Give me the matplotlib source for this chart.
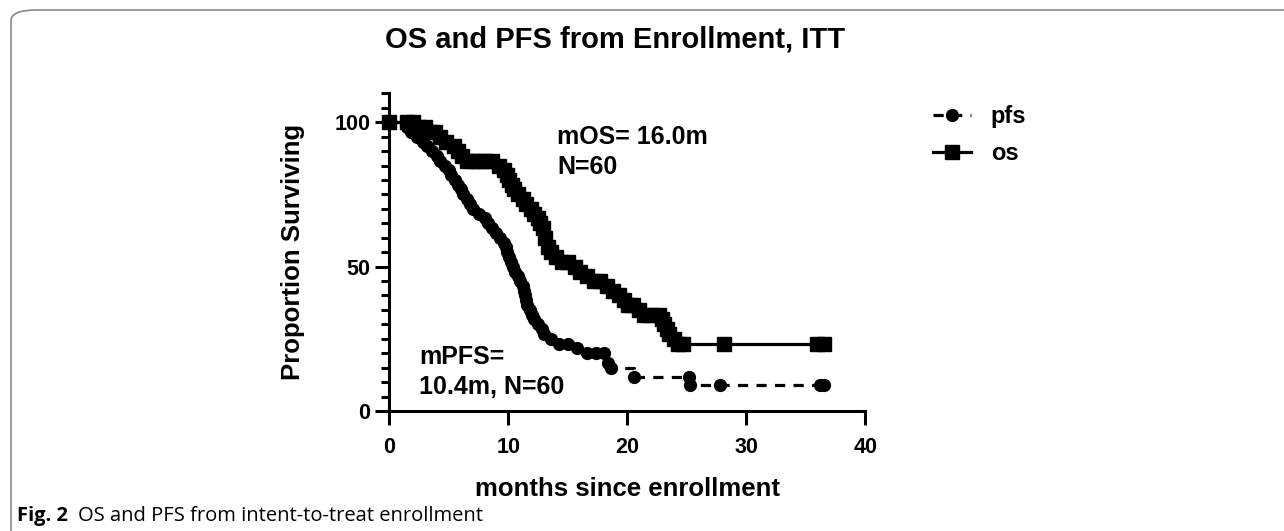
import matplotlib
matplotlib.use("Agg")
import matplotlib.pyplot as plt
from matplotlib.patches import FancyBboxPatch
from matplotlib.ticker import MultipleLocator

# ---- data ----
pfs_time = [0, 1.5, 1.8, 2.3, 2.8, 3.2, 3.6, 4.0, 4.3, 4.7, 5.0, 5.2, 5.5, 5.8, 6.0, 6.2,
            6.5, 6.8, 7.0, 7.5, 8.0, 8.3, 8.6, 9.0, 9.3, 9.6, 9.8, 9.9, 10.1, 10.2, 10.4,
            10.6, 10.8, 11.0, 11.2, 11.3, 11.4, 11.5, 11.6, 11.8, 12.0, 12.2, 12.5, 12.8,
            13.0, 13.6, 14.3, 15.0, 15.8, 16.6, 17.4, 18.0, 18.4, 18.6, 20.6, 25.2, 25.3,
            27.8, 36.2, 36.5]
pfs_surv = [100, 98.3, 96.7, 95.0, 93.3, 91.7, 90.0, 88.3, 86.7, 85.0, 83.3, 81.7, 80.0,
            78.3, 76.7, 75.0, 73.3, 71.7, 70.0, 68.3, 66.7, 65.0, 63.3, 61.7, 60.0, 58.3,
            56.7, 55.0, 53.3, 51.7, 50.0, 48.3, 46.7, 45.0, 43.3, 41.7, 40.0, 38.3, 36.7,
            35.0, 33.3, 31.7, 30.0, 28.3, 26.7, 25.0, 23.3, 23.3, 21.7, 20.0, 20.0, 20.0,
            16.7, 14.8, 11.9, 11.9, 9.0, 9.0, 9.0, 9.0]

os_time = [0, 1.5, 2.0, 2.5, 3.0, 3.4, 3.8, 4.3, 4.8, 5.4, 5.8, 6.1, 6.5, 7.0, 7.5, 8.0,
           8.6, 9.2, 9.6, 9.9, 10.1, 10.3, 10.5, 10.8, 11.2, 11.5, 11.9, 12.2, 12.5, 12.7,
           12.9, 13.1, 13.3, 13.6, 14.0, 14.5, 15.0, 15.6, 16.0, 16.6, 17.2, 17.7, 18.3,
           18.8, 19.3, 19.7, 20.1, 20.5, 21.0, 21.4, 22.0, 22.7, 22.9, 23.1, 23.3, 23.5,
           23.9, 24.3, 24.7, 28.1, 35.9, 36.5]
os_surv = [100, 100, 100, 98.3, 98.3, 96.7, 96.7, 95.0, 93.3, 91.7, 90.0, 88.3, 86.7, 86.7,
           86.7, 86.7, 86.7, 85.0, 83.3, 81.7, 80.0, 78.3, 76.7, 75.0, 73.3, 71.7, 70.0,
           68.3, 66.7, 65.0, 63.3, 60.0, 56.7, 55.0, 53.3, 51.7, 51.7, 50.0, 48.3, 46.7,
           45.0, 45.0, 43.3, 41.7, 40.0, 38.3, 36.7, 36.7, 35.0, 33.3, 33.3, 33.3, 31.7,
           30.0, 28.3, 26.7, 25.0, 23.3, 23.3, 23.3, 23.3, 23.3]

x_ticks = [0, 10, 20, 30, 40]
y_ticks = [0, 50, 100]

title = "OS and PFS from Enrollment, ITT"
xlabel = "months since enrollment"
ylabel = "Proportion Surviving"
os_note = ["mOS= 16.0m", "N=60"]
pfs_note = ["mPFS=", "10.4m, N=60"]
caption_bold = "Fig. 2"
caption_text = "OS and PFS from intent-to-treat enrollment"

# ---- figure ----
W, H = 1284, 531
fig = plt.figure(figsize=(W / 100, H / 100), dpi=100)
plt.rcParams['font.family'] = ['Liberation Sans', 'DejaVu Sans']

# journal frame
frame = FancyBboxPatch((11 / W, -0.2), 1.2, 1.2 - 10 / H,
                       boxstyle="round,pad=0,rounding_size=0.02",
                       transform=fig.transFigure, fill=False,
                       edgecolor="#8a8a8a", linewidth=1.2, clip_on=False)
fig.patches.append(frame)

ax = fig.add_axes([389.3 / W, 1 - 411 / H, (865.3 - 389.3) / W, (411 - 93.3) / H])
ax.set_xlim(0, 40)
ax.set_ylim(0, 110)
for s in ["top", "right"]:
    ax.spines[s].set_visible(False)
for s in ["left", "bottom"]:
    ax.spines[s].set_linewidth(2.2)
ax.set_xticks(x_ticks)
ax.set_yticks(y_ticks)
ax.yaxis.set_minor_locator(MultipleLocator(5))
ax.tick_params(axis="both", which="major", length=10, width=2.2,
               labelsize=15.5, colors="black")
ax.tick_params(axis="x", which="major", pad=9)
ax.tick_params(axis="y", which="major", pad=3.5)
ax.tick_params(axis="y", which="minor", length=6, width=2.2)
for lab in ax.get_xticklabels() + ax.get_yticklabels():
    lab.set_fontweight("bold")

ax.plot(pfs_time, pfs_surv, drawstyle="steps-post", color="black", linewidth=2.3,
        linestyle=(0, (3.2, 2.6)), marker="o", markersize=8.5, label="pfs",
        clip_on=False)
ax.plot(os_time, os_surv, drawstyle="steps-post", color="black", linewidth=2.3,
        linestyle="-", marker="s", markersize=10, label="os", clip_on=False)

ax.set_xlabel(xlabel, fontsize=18.5, fontweight="bold", labelpad=13.5)
ax.set_ylabel(ylabel, fontsize=18.5, fontweight="bold", labelpad=21)

ax.text(14.1, 94.7, os_note[0], fontsize=18, fontweight="bold", va="center", ha="left")
ax.text(14.1, 84.6, os_note[1], fontsize=18, fontweight="bold", va="center", ha="left")
ax.text(2.5, 18.8, pfs_note[0], fontsize=18, fontweight="bold", va="center", ha="left")
ax.text(2.5, 8.4, pfs_note[1], fontsize=18, fontweight="bold", va="center", ha="left")

leg = ax.legend(loc="upper left", bbox_to_anchor=(933 / W, 1 - 105 / H),
                bbox_transform=fig.transFigure, frameon=False,
                prop={"size": 17, "weight": "bold"}, handlelength=1.6,
                handletextpad=0.85, labelspacing=0.6, borderaxespad=0, borderpad=0)

fig.text(615 / W, 1 - 40 / H, title, fontsize=21, fontweight="bold",
         ha="center", va="center")

t1 = fig.text(17 / W, 1 - 516 / H, caption_bold, fontsize=14.5, fontweight="bold",
              ha="left", va="center", family=["Open Sans", "DejaVu Sans"])
fig.canvas.draw()
bb = t1.get_window_extent()
fig.text((bb.x1 + 10) / W, 1 - 516 / H, caption_text, fontsize=14.5,
         ha="left", va="center", family=["Open Sans", "DejaVu Sans"])

fig.savefig("out.png", dpi=100)
